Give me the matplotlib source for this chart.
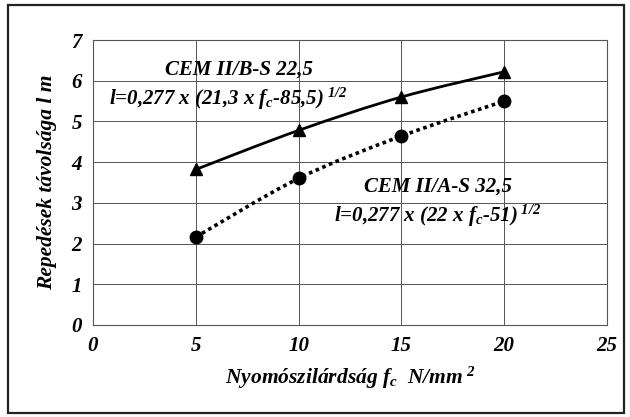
import matplotlib
matplotlib.use("Agg")
import matplotlib.pyplot as plt
from matplotlib.path import Path
from matplotlib.patches import PathPatch, Rectangle

# data
fc = [5, 10, 15, 20]
cem_b = [3.82, 4.78, 5.6, 6.22]   # CEM II/B-S 22,5 (triangles)
cem_a = [2.16, 3.6, 4.64, 5.5]    # CEM II/A-S 32,5 (circles)

plt.rcParams['font.family'] = ['Liberation Serif', 'DejaVu Serif']
plt.rcParams['font.weight'] = 'bold'
plt.rcParams['font.style'] = 'italic'
plt.rcParams['axes.labelweight'] = 'bold'
plt.rcParams['mathtext.fontset'] = 'custom'
plt.rcParams['mathtext.rm'] = 'Liberation Serif:bold:italic'
plt.rcParams['mathtext.it'] = 'Liberation Serif:bold:italic'
plt.rcParams['mathtext.bf'] = 'Liberation Serif:bold:italic'


def smooth_path(xs, ys):
    # Excel-like smoothed line: cubic bezier segments (Catmull-Rom tangents)
    verts = [(xs[0], ys[0])]
    codes = [Path.MOVETO]
    n = len(xs)
    for i in range(n - 1):
        x0, y0 = (xs[i - 1], ys[i - 1]) if i > 0 else (xs[i], ys[i])
        x1, y1 = xs[i], ys[i]
        x2, y2 = xs[i + 1], ys[i + 1]
        x3, y3 = (xs[i + 2], ys[i + 2]) if i + 2 < n else (xs[i + 1], ys[i + 1])
        c1 = (x1 + (x2 - x0) / 6, y1 + (y2 - y0) / 6)
        c2 = (x2 - (x3 - x1) / 6, y2 - (y3 - y1) / 6)
        verts += [c1, c2, (x2, y2)]
        codes += [Path.CURVE4] * 3
    return Path(verts, codes)


fig = plt.figure(figsize=(6.3, 4.17), dpi=100)
fig.patch.set_facecolor('white')
fig.patches.append(Rectangle((8 / 630, 4 / 417), 616 / 630, 408 / 417,
                             transform=fig.transFigure, fill=False,
                             edgecolor='#222222', linewidth=1.6))

ax = fig.add_axes([93 / 630, 1 - 325 / 417, 514 / 630, 285 / 417])
ax.set_xlim(0, 25)
ax.set_ylim(0, 7)
ax.set_xticks([0, 5, 10, 15, 20, 25])
ax.set_yticks(range(8))
ax.grid(True, color='#555555', linewidth=0.7)
ax.set_axisbelow(True)
for s in ax.spines.values():
    s.set_color('#555555')
    s.set_linewidth(0.8)
ax.tick_params(length=0, labelsize=15, pad=8)

ax.add_patch(PathPatch(smooth_path(fc, cem_b), fill=False, color='black', lw=2.0))
ax.add_patch(PathPatch(smooth_path(fc, cem_a), fill=False, color='black', lw=2.6,
                       linestyle=(0, (1, 1))))
ax.plot(fc, cem_b, linestyle='none', marker='^', color='black', markersize=9)
ax.plot(fc, cem_a, linestyle='none', marker='o', color='black', markersize=9)

ax.text(3.5, 6.27, 'CEM II/B-S 22,5', fontsize=15, va='center')
ax.text(0.8, 5.55, r'l=0,277 x (21,3 x $f_c$-85,5)$^{\ 1/2}$', fontsize=15, va='center')
ax.text(13.2, 3.39, 'CEM II/A-S 32,5', fontsize=15, va='center')
ax.text(11.7, 2.67, r'l=0,277 x (22 x $f_c$-51)$^{\ 1/2}$', fontsize=15, va='center')

ax.set_xlabel(r'Nyomószilárdság $f_c$  N/mm$^{\ 2}$', fontsize=15.5, labelpad=6)
ax.set_ylabel('Repedések távolsága l m', fontsize=15.5, labelpad=10)

fig.savefig('out.png', dpi=100)
